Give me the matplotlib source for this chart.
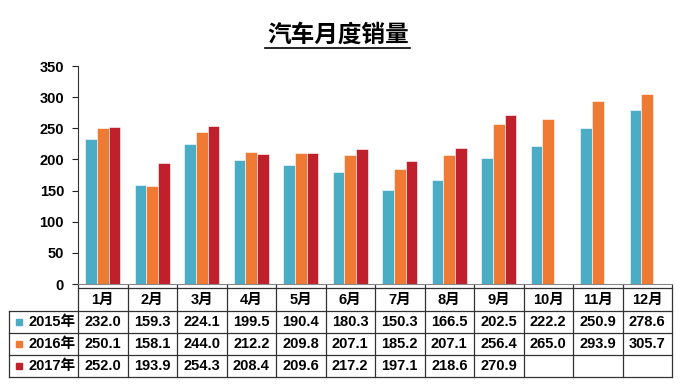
import numpy as np
import matplotlib.pyplot as plt
from matplotlib.transforms import blended_transform_factory
from matplotlib.patches import Rectangle

plt.rcParams['font.family'] = ['Liberation Sans', 'Noto Sans CJK SC', 'DejaVu Sans']
plt.rcParams['font.weight'] = 'bold'

# datos
months = ['1月', '2月', '3月', '4月', '5月', '6月', '7月', '8月', '9月', '10月', '11月', '12月']
years = ['2015年', '2016年', '2017年']
s2015 = [232.0, 159.3, 224.1, 199.5, 190.4, 180.3, 150.3, 166.5, 202.5, 222.2, 250.9, 278.6]
s2016 = [250.1, 158.1, 244.0, 212.2, 209.8, 207.1, 185.2, 207.1, 256.4, 265.0, 293.9, 305.7]
s2017 = [252.0, 193.9, 254.3, 208.4, 209.6, 217.2, 197.1, 218.6, 270.9]
colors = ['#4BACC6', '#EE7A34', '#C0202C']

W, H = 682, 387
fig = plt.figure(figsize=(W / 100, H / 100), dpi=100)
ax = fig.add_axes([78 / W, 1 - 284 / H, (672 - 78) / W, (284 - 66) / H])

series = [s2015, s2016, s2017]
bw = 0.235
for k, s in enumerate(series):
    x = np.arange(len(s)) + 0.5 + (k - 1) * bw
    ax.bar(x, s, width=bw, color=colors[k], edgecolor='white', linewidth=0.4)

ax.set_xlim(0, 12)
ax.set_ylim(0, 350)
ax.set_yticks(np.arange(0, 351, 50))
ax.set_xticks([])
ax.tick_params(axis='y', direction='out', length=4, width=0.8, labelsize=10.5, pad=6, colors='#222222')
for lab in ax.get_yticklabels():
    lab.set_fontweight('bold')
    lab.set_color('black')
ax.spines['top'].set_visible(False)
ax.spines['right'].set_visible(False)
ax.spines['left'].set_color('#333333')
ax.spines['bottom'].set_color('#888888')

# titulo subrayado
fig.text(338 / W, 1 - 35 / H, '汽车月度销量', ha='center', va='center', fontsize=17, fontweight='bold')
fig.add_artist(plt.Line2D([265 / W, 410 / W], [1 - 48 / H, 1 - 48 / H], color='black', lw=1.2))

# tabla
tr = blended_transform_factory(ax.transData, fig.transFigure)
rows_px = [288, 311, 333, 355, 377]
fy = [1 - r / H for r in rows_px]
xl = -69 / 49.5
lc = '#333333'
lw = 0.9
# horizontales
ax.plot([0, 12], [fy[0], fy[0]], transform=tr, color=lc, lw=lw, clip_on=False)
for y in fy[1:]:
    ax.plot([xl, 12], [y, y], transform=tr, color=lc, lw=lw, clip_on=False)
# verticales
for i in range(13):
    ax.plot([i, i], [1 - 285 / H, fy[-1]], transform=tr, color=lc, lw=lw, clip_on=False)
ax.plot([xl, xl], [fy[1], fy[-1]], transform=tr, color=lc, lw=lw, clip_on=False)

fs = 10.5
for i, m in enumerate(months):
    ax.text(i + 0.5, (fy[0] + fy[1]) / 2, m, transform=tr, ha='center', va='center',
            fontsize=fs, fontweight='bold')
for k, s in enumerate(series):
    yc = (fy[k + 1] + fy[k + 2]) / 2
    for i, v in enumerate(s):
        ax.text(i + 0.5, yc, f'{v:.1f}', transform=tr, ha='center', va='center',
                fontsize=fs, fontweight='bold')
    fig.text(76 / W, yc, years[k], ha='right', va='center', fontsize=fs, fontweight='bold')
    fig.add_artist(Rectangle((15.5 / W, yc - 3 / H), 6 / W, 6 / H, transform=fig.transFigure,
                             color=colors[k]))

fig.savefig('out.png', dpi=100)
